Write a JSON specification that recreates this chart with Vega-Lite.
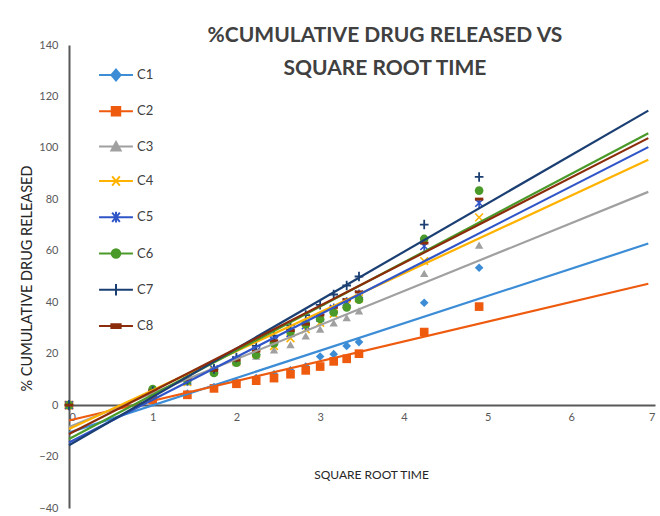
{
  "$schema": "https://vega.github.io/schema/vega-lite/v6.json",
  "width": 586,
  "height": 463,
  "autosize": {"type": "none"},
  "padding": {"left": 69, "top": 45, "right": 5, "bottom": 8},
  "background": "white",
  "config": {
    "view": {"stroke": null},
    "font": "Lato"
  },
  "title": {
    "text": ["%CUMULATIVE DRUG RELEASED VS", "SQUARE ROOT TIME"],
    "font": "Lato",
    "fontSize": 21,
    "fontWeight": "bold",
    "color": "#404040",
    "anchor": "middle",
    "frame": "group",
    "baseline": "alphabetic",
    "lineHeight": 33,
    "offset": 0,
    "dx": 23,
    "dy": 57
  },
  "datasets": {
    "pts": [
      {"series": "C1", "x": 0, "y": 0}, {"series": "C1", "x": 1, "y": 1.5}, {"series": "C1", "x": 1.414, "y": 4.5}, {"series": "C1", "x": 1.732, "y": 7}, {"series": "C1", "x": 2, "y": 9}, {"series": "C1", "x": 2.236, "y": 10.5}, {"series": "C1", "x": 2.449, "y": 12}, {"series": "C1", "x": 2.646, "y": 13.5}, {"series": "C1", "x": 2.828, "y": 15}, {"series": "C1", "x": 3, "y": 18.9}, {"series": "C1", "x": 3.162, "y": 19.8}, {"series": "C1", "x": 3.317, "y": 23}, {"series": "C1", "x": 3.464, "y": 24.5}, {"series": "C1", "x": 4.243, "y": 39.8}, {"series": "C1", "x": 4.899, "y": 53.4},
      {"series": "C2", "x": 0, "y": 0}, {"series": "C2", "x": 1, "y": 2}, {"series": "C2", "x": 1.414, "y": 4}, {"series": "C2", "x": 1.732, "y": 6.5}, {"series": "C2", "x": 2, "y": 8.3}, {"series": "C2", "x": 2.236, "y": 9.5}, {"series": "C2", "x": 2.449, "y": 10.5}, {"series": "C2", "x": 2.646, "y": 12}, {"series": "C2", "x": 2.828, "y": 13.5}, {"series": "C2", "x": 3, "y": 15}, {"series": "C2", "x": 3.162, "y": 17}, {"series": "C2", "x": 3.317, "y": 18}, {"series": "C2", "x": 3.464, "y": 20}, {"series": "C2", "x": 4.243, "y": 28.4}, {"series": "C2", "x": 4.899, "y": 38.3},
      {"series": "C3", "x": 0, "y": 0}, {"series": "C3", "x": 1, "y": 5}, {"series": "C3", "x": 1.414, "y": 9}, {"series": "C3", "x": 1.732, "y": 13}, {"series": "C3", "x": 2, "y": 16.5}, {"series": "C3", "x": 2.236, "y": 19}, {"series": "C3", "x": 2.449, "y": 21.5}, {"series": "C3", "x": 2.646, "y": 23.5}, {"series": "C3", "x": 2.828, "y": 26.9}, {"series": "C3", "x": 3, "y": 29.5}, {"series": "C3", "x": 3.162, "y": 32}, {"series": "C3", "x": 3.317, "y": 34}, {"series": "C3", "x": 3.464, "y": 36.6}, {"series": "C3", "x": 4.243, "y": 51.2}, {"series": "C3", "x": 4.899, "y": 62.2},
      {"series": "C4", "x": 0, "y": 0}, {"series": "C4", "x": 1, "y": 5}, {"series": "C4", "x": 1.414, "y": 9}, {"series": "C4", "x": 1.732, "y": 13.5}, {"series": "C4", "x": 2, "y": 17}, {"series": "C4", "x": 2.236, "y": 20}, {"series": "C4", "x": 2.449, "y": 23}, {"series": "C4", "x": 2.646, "y": 26}, {"series": "C4", "x": 2.828, "y": 29.5}, {"series": "C4", "x": 3, "y": 32}, {"series": "C4", "x": 3.162, "y": 35.5}, {"series": "C4", "x": 3.317, "y": 39}, {"series": "C4", "x": 3.464, "y": 41.5}, {"series": "C4", "x": 4.243, "y": 56}, {"series": "C4", "x": 4.899, "y": 73},
      {"series": "C5", "x": 0, "y": 0}, {"series": "C5", "x": 1, "y": 5}, {"series": "C5", "x": 1.414, "y": 9.5}, {"series": "C5", "x": 1.732, "y": 14}, {"series": "C5", "x": 2, "y": 17.5}, {"series": "C5", "x": 2.236, "y": 21}, {"series": "C5", "x": 2.449, "y": 25}, {"series": "C5", "x": 2.646, "y": 28}, {"series": "C5", "x": 2.828, "y": 31}, {"series": "C5", "x": 3, "y": 34}, {"series": "C5", "x": 3.162, "y": 37.5}, {"series": "C5", "x": 3.317, "y": 40}, {"series": "C5", "x": 3.464, "y": 43}, {"series": "C5", "x": 4.243, "y": 61.8}, {"series": "C5", "x": 4.899, "y": 78.6},
      {"series": "C6", "x": 0, "y": 0}, {"series": "C6", "x": 1, "y": 6.2}, {"series": "C6", "x": 1.414, "y": 9.5}, {"series": "C6", "x": 1.732, "y": 12.5}, {"series": "C6", "x": 2, "y": 16.5}, {"series": "C6", "x": 2.236, "y": 19.5}, {"series": "C6", "x": 2.449, "y": 24}, {"series": "C6", "x": 2.646, "y": 28.5}, {"series": "C6", "x": 2.828, "y": 31.5}, {"series": "C6", "x": 3, "y": 33.5}, {"series": "C6", "x": 3.162, "y": 36}, {"series": "C6", "x": 3.317, "y": 38}, {"series": "C6", "x": 3.464, "y": 41}, {"series": "C6", "x": 4.243, "y": 64.6}, {"series": "C6", "x": 4.899, "y": 83.4},
      {"series": "C7", "x": 0, "y": 0}, {"series": "C7", "x": 1, "y": 5.5}, {"series": "C7", "x": 1.414, "y": 10}, {"series": "C7", "x": 1.732, "y": 14}, {"series": "C7", "x": 2, "y": 18.5}, {"series": "C7", "x": 2.236, "y": 23}, {"series": "C7", "x": 2.449, "y": 27}, {"series": "C7", "x": 2.646, "y": 31}, {"series": "C7", "x": 2.828, "y": 35}, {"series": "C7", "x": 3, "y": 39}, {"series": "C7", "x": 3.162, "y": 43}, {"series": "C7", "x": 3.317, "y": 46.5}, {"series": "C7", "x": 3.464, "y": 50}, {"series": "C7", "x": 4.243, "y": 70.2}, {"series": "C7", "x": 4.899, "y": 88.7},
      {"series": "C8", "x": 0, "y": 0}, {"series": "C8", "x": 1, "y": 5.5}, {"series": "C8", "x": 1.414, "y": 10}, {"series": "C8", "x": 1.732, "y": 13.5}, {"series": "C8", "x": 2, "y": 17.5}, {"series": "C8", "x": 2.236, "y": 21}, {"series": "C8", "x": 2.449, "y": 25}, {"series": "C8", "x": 2.646, "y": 29}, {"series": "C8", "x": 2.828, "y": 31.5}, {"series": "C8", "x": 3, "y": 35}, {"series": "C8", "x": 3.162, "y": 38}, {"series": "C8", "x": 3.317, "y": 41}, {"series": "C8", "x": 3.464, "y": 44}, {"series": "C8", "x": 4.243, "y": 63}, {"series": "C8", "x": 4.899, "y": 80.1}
    ],
    "trend": [
      {"series": "C1", "x": 0, "y": -10.7}, {"series": "C1", "x": 6.92, "y": 62.8},
      {"series": "C2", "x": 0, "y": -6}, {"series": "C2", "x": 6.92, "y": 47.2},
      {"series": "C3", "x": 0, "y": -8.5}, {"series": "C3", "x": 6.92, "y": 82.9},
      {"series": "C4", "x": 0, "y": -9.3}, {"series": "C4", "x": 6.92, "y": 95.4},
      {"series": "C5", "x": 0, "y": -14.5}, {"series": "C5", "x": 6.92, "y": 100.3},
      {"series": "C6", "x": 0, "y": -13.2}, {"series": "C6", "x": 6.92, "y": 105.7},
      {"series": "C7", "x": 0, "y": -15.6}, {"series": "C7", "x": 6.92, "y": 114.5},
      {"series": "C8", "x": 0, "y": -11.2}, {"series": "C8", "x": 6.92, "y": 103.8}
    ]
  },
  "encoding": {
    "x": {
      "field": "x", "type": "quantitative",
      "scale": {"domain": [0, 7], "nice": false, "zero": false},
      "axis": {
        "values": [0, 1, 2, 3, 4, 5, 6, 7],
        "format": "d",
        "title": "SQUARE ROOT TIME",
        "titleFont": "Lato", "titleFontSize": 12, "titleFontWeight": "normal", "titleColor": "#262626",
        "titleX": 302, "titleY": 73, "titleAlign": "center", "titleBaseline": "alphabetic",
        "offset": -103,
        "grid": false, "ticks": false, "tickSize": 0,
        "domainColor": "#595959", "domainWidth": 2,
        "labelColor": "#595959", "labelFontSize": 11, "labelFont": "Lato", "labelPadding": 6
      }
    },
    "y": {
      "field": "y", "type": "quantitative",
      "scale": {"domain": [-40, 140], "nice": false, "zero": false},
      "axis": {
        "values": [-40, -20, 0, 20, 40, 60, 80, 100, 120, 140],
        "title": "% CUMULATIVE DRUG RELEASED",
        "titleFont": "Lato", "titleFontSize": 14.5, "titleFontWeight": "normal", "titleColor": "#262626",
        "titleX": -42, "titleY": 233, "titleAlign": "center", "titleBaseline": "middle", "titleAngle": -90,
        "grid": false, "ticks": false, "tickSize": 0,
        "domainColor": "#595959", "domainWidth": 2,
        "labelColor": "#595959", "labelFontSize": 11, "labelFont": "Lato", "labelPadding": 11
      }
    }
  },
  "resolve": {"legend": {"color": "independent", "stroke": "independent", "shape": "independent"}},
  "layer": [
    {"data": {"name": "pts"}, "transform": [{"filter": "datum.series == 'C1'"}],
     "mark": {"type": "point", "shape": "diamond", "filled": true, "size": 75, "opacity": 1},
     "encoding": {"color": {"field": "series", "type": "nominal", "legend": null,
       "scale": {"domain": ["C1", "C2", "C3", "C4", "C5", "C6", "C7", "C8"], "range": ["#3C8DD6", "#EE5A0E", "#A0A0A0", "#FFB300", "#2F55C8", "#4A9A2A", "#1B3F73", "#8B2C0B"]}}}},
    {"data": {"name": "pts"}, "transform": [{"filter": "datum.series == 'C2'"}],
     "mark": {"type": "point", "shape": "square", "filled": true, "size": 75, "opacity": 1},
     "encoding": {"color": {"field": "series", "type": "nominal", "legend": null}}},
    {"data": {"name": "pts"}, "transform": [{"filter": "datum.series == 'C3'"}],
     "mark": {"type": "point", "shape": "triangle-up", "filled": true, "size": 70, "opacity": 1},
     "encoding": {"color": {"field": "series", "type": "nominal", "legend": null}}},
    {"data": {"name": "pts"}, "transform": [{"filter": "datum.series == 'C4'"}],
     "mark": {"type": "point", "shape": "M-1,-1L1,1M-1,1L1,-1", "filled": false, "size": 60, "strokeWidth": 1.6, "opacity": 1},
     "encoding": {"color": {"field": "series", "type": "nominal", "legend": null}}},
    {"data": {"name": "pts"}, "transform": [{"filter": "datum.series == 'C5'"}],
     "mark": {"type": "point", "shape": "M-1,-1L1,1M-1,1L1,-1M0,-1.3L0,1.3", "filled": false, "size": 60, "strokeWidth": 1.6, "opacity": 1},
     "encoding": {"color": {"field": "series", "type": "nominal", "legend": null}}},
    {"data": {"name": "pts"}, "transform": [{"filter": "datum.series == 'C6'"}],
     "mark": {"type": "point", "shape": "circle", "filled": true, "size": 75, "opacity": 1},
     "encoding": {"color": {"field": "series", "type": "nominal", "legend": null}}},
    {"data": {"name": "pts"}, "transform": [{"filter": "datum.series == 'C7'"}],
     "mark": {"type": "point", "shape": "M-1,0L1,0M0,-1.1L0,1.1", "filled": false, "size": 75, "strokeWidth": 1.8, "opacity": 1},
     "encoding": {"color": {"field": "series", "type": "nominal", "legend": null}}},
    {"data": {"name": "pts"}, "transform": [{"filter": "datum.series == 'C8'"}],
     "mark": {"type": "point", "shape": "M-1,-0.35L1,-0.35L1,0.35L-1,0.35Z", "filled": true, "size": 70, "opacity": 1},
     "encoding": {"color": {"field": "series", "type": "nominal", "legend": null}}},
    {
      "data": {"name": "trend"},
      "mark": {"type": "line", "strokeWidth": 2.2},
      "encoding": {"color": {"field": "series", "type": "nominal", "legend": null}}
    },
    {
      "data": {"name": "pts"},
      "transform": [{"filter": "datum.x > 100"}],
      "mark": {"type": "point", "filled": true, "opacity": 1, "strokeWidth": 2},
      "encoding": {
        "color": {
          "field": "series", "type": "nominal",
          "legend": {
            "orient": "none", "legendX": 38, "legendY": 21,
            "title": null, "padding": 0, "rowPadding": 17.3,
            "symbolSize": 237, "labelOffset": 12, "symbolStrokeWidth": 2, "symbolOpacity": 1,
            "labelFont": "Lato", "labelFontSize": 13, "labelColor": "#404040"
          }
        },
        "stroke": {
          "field": "series", "type": "nominal",
          "scale": {
            "domain": ["C1", "C2", "C3", "C4", "C5", "C6", "C7", "C8"],
            "range": ["#3C8DD6", "#EE5A0E", "#A0A0A0", "#FFB300", "#2F55C8", "#4A9A2A", "#1B3F73", "#8B2C0B"]
          },
          "legend": {
            "orient": "none", "legendX": 38, "legendY": 21,
            "title": null, "padding": 0, "rowPadding": 17.3,
            "symbolSize": 237, "labelOffset": 12, "symbolStrokeWidth": 2, "symbolOpacity": 1,
            "labelFont": "Lato", "labelFontSize": 13, "labelColor": "#404040"
          }
        },
        "shape": {
          "field": "series", "type": "nominal",
          "scale": {
            "domain": ["C1", "C2", "C3", "C4", "C5", "C6", "C7", "C8"],
            "range": [
              "M-2.2,0L2.2,0M0,-0.7L0.6,0L0,0.7L-0.6,0Z",
              "M-2.2,0L2.2,0M-0.55,-0.55L0.55,-0.55L0.55,0.55L-0.55,0.55Z",
              "M-2.2,0L2.2,0M0,-0.6L0.6,0.5L-0.6,0.5Z",
              "M-2.2,0L2.2,0M-0.5,-0.6L0.5,0.6M-0.5,0.6L0.5,-0.6",
              "M-2.2,0L2.2,0M-0.5,-0.6L0.5,0.6M-0.5,0.6L0.5,-0.6M0,-0.7L0,0.7",
              "M-2.2,0L2.2,0M0.55,0A0.55,0.55,0,1,1,-0.55,0A0.55,0.55,0,1,1,0.55,0Z",
              "M-2.2,0L2.2,0M0,-0.75L0,0.75",
              "M-2.2,0L2.2,0M-0.6,-0.25L0.6,-0.25L0.6,0.25L-0.6,0.25Z"
            ]
          },
          "legend": {
            "orient": "none", "legendX": 38, "legendY": 21,
            "title": null, "padding": 0, "rowPadding": 17.3,
            "symbolSize": 237, "labelOffset": 12, "symbolStrokeWidth": 2, "symbolOpacity": 1,
            "labelFont": "Lato", "labelFontSize": 13, "labelColor": "#404040"
          }
        }
      }
    }
  ]
}
